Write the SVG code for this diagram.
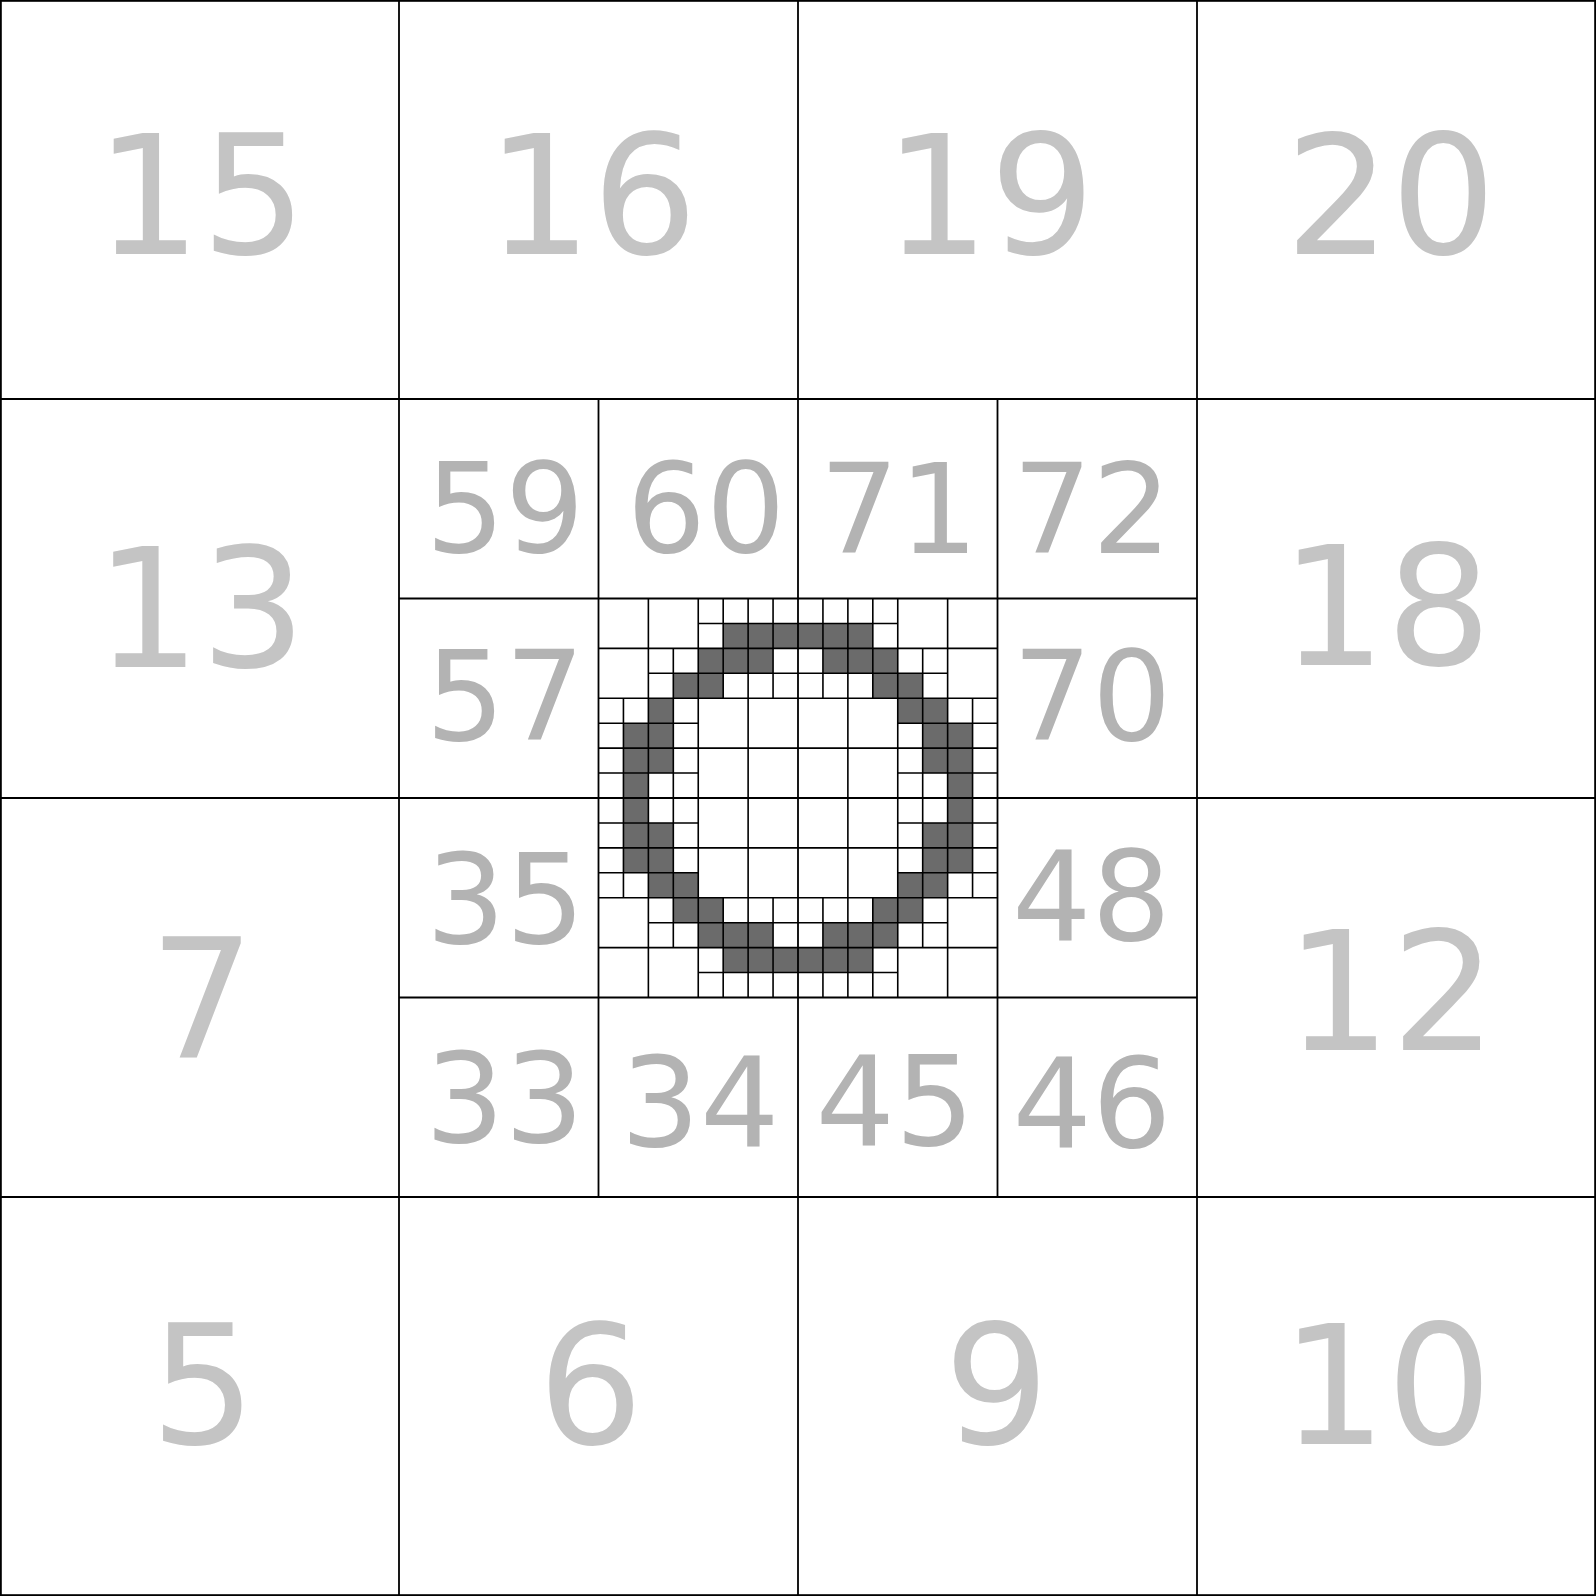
<svg xmlns="http://www.w3.org/2000/svg" xmlns:xlink="http://www.w3.org/1999/xlink" width="1596" height="1596" viewBox="0 0 1596 1596">
<style>
.ln{stroke:#000;stroke-width:1.8;fill:none}
.fn{stroke:#000;stroke-width:1.6;fill:none}
.on{fill:#6b6b6b}
.big{font-family:"DejaVu Sans",sans-serif;font-size:166px;fill:#c4c4c4;text-anchor:middle}
.mid{font-family:"DejaVu Sans",sans-serif;font-size:125px;fill:#b3b3b3;text-anchor:middle}
</style>
<defs>
<rect id="px" width="24.9375" height="24.9375"/>
<path id="cx" d="M24.9375 0V49.875M0 24.9375H49.875"/>
</defs>
<rect x="0" y="0" width="1596" height="1596" fill="#fff"/>
<g id="occupied">
<g class="on">
<use xlink:href="#px" x="723.1875" y="623.4375"/><use xlink:href="#px" x="748.125" y="623.4375"/><use xlink:href="#px" x="773.0625" y="623.4375"/><use xlink:href="#px" x="798" y="623.4375"/><use xlink:href="#px" x="822.9375" y="623.4375"/><use xlink:href="#px" x="847.875" y="623.4375"/>
<use xlink:href="#px" x="698.25" y="648.375"/><use xlink:href="#px" x="723.1875" y="648.375"/><use xlink:href="#px" x="748.125" y="648.375"/><use xlink:href="#px" x="822.9375" y="648.375"/><use xlink:href="#px" x="847.875" y="648.375"/><use xlink:href="#px" x="872.8125" y="648.375"/>
<use xlink:href="#px" x="673.3125" y="673.3125"/><use xlink:href="#px" x="698.25" y="673.3125"/><use xlink:href="#px" x="872.8125" y="673.3125"/><use xlink:href="#px" x="897.75" y="673.3125"/>
<use xlink:href="#px" x="648.375" y="698.25"/><use xlink:href="#px" x="897.75" y="698.25"/><use xlink:href="#px" x="922.6875" y="698.25"/>
<use xlink:href="#px" x="623.4375" y="723.1875"/><use xlink:href="#px" x="648.375" y="723.1875"/><use xlink:href="#px" x="922.6875" y="723.1875"/><use xlink:href="#px" x="947.625" y="723.1875"/>
<use xlink:href="#px" x="623.4375" y="748.125"/><use xlink:href="#px" x="648.375" y="748.125"/><use xlink:href="#px" x="922.6875" y="748.125"/><use xlink:href="#px" x="947.625" y="748.125"/>
<use xlink:href="#px" x="623.4375" y="773.0625"/><use xlink:href="#px" x="947.625" y="773.0625"/>
<use xlink:href="#px" x="623.4375" y="798"/><use xlink:href="#px" x="947.625" y="798"/>
<use xlink:href="#px" x="623.4375" y="822.9375"/><use xlink:href="#px" x="648.375" y="822.9375"/><use xlink:href="#px" x="922.6875" y="822.9375"/><use xlink:href="#px" x="947.625" y="822.9375"/>
<use xlink:href="#px" x="623.4375" y="847.875"/><use xlink:href="#px" x="648.375" y="847.875"/><use xlink:href="#px" x="922.6875" y="847.875"/><use xlink:href="#px" x="947.625" y="847.875"/>
<use xlink:href="#px" x="648.375" y="872.8125"/><use xlink:href="#px" x="673.3125" y="872.8125"/><use xlink:href="#px" x="897.75" y="872.8125"/><use xlink:href="#px" x="922.6875" y="872.8125"/>
<use xlink:href="#px" x="673.3125" y="897.75"/><use xlink:href="#px" x="698.25" y="897.75"/><use xlink:href="#px" x="872.8125" y="897.75"/><use xlink:href="#px" x="897.75" y="897.75"/>
<use xlink:href="#px" x="698.25" y="922.6875"/><use xlink:href="#px" x="723.1875" y="922.6875"/><use xlink:href="#px" x="748.125" y="922.6875"/><use xlink:href="#px" x="822.9375" y="922.6875"/><use xlink:href="#px" x="847.875" y="922.6875"/><use xlink:href="#px" x="872.8125" y="922.6875"/>
<use xlink:href="#px" x="723.1875" y="947.625"/><use xlink:href="#px" x="748.125" y="947.625"/><use xlink:href="#px" x="773.0625" y="947.625"/><use xlink:href="#px" x="798" y="947.625"/><use xlink:href="#px" x="822.9375" y="947.625"/><use xlink:href="#px" x="847.875" y="947.625"/>
</g>
</g>
<g id="grid">
<path class="ln" d="M399 0V1596M798 0V1596M1197 0V1596M0 399H1596M0 798H1596M0 1197H1596"/>
<path class="ln" d="M598.5 399V1197M997.5 399V1197M399 598.5H1197M399 997.5H1197"/>
<path class="fn" d="M648.375 598.5V997.5M698.25 598.5V997.5M748.125 598.5V997.5M847.875 598.5V997.5M897.75 598.5V997.5M947.625 598.5V997.5M598.5 648.375H997.5M598.5 698.25H997.5M598.5 748.125H997.5M598.5 847.875H997.5M598.5 897.75H997.5M598.5 947.625H997.5"/>
<g class="fn">
<use xlink:href="#cx" x="698.25" y="598.5"/><use xlink:href="#cx" x="748.125" y="598.5"/><use xlink:href="#cx" x="798" y="598.5"/><use xlink:href="#cx" x="847.875" y="598.5"/>
<use xlink:href="#cx" x="648.375" y="648.375"/><use xlink:href="#cx" x="698.25" y="648.375"/><use xlink:href="#cx" x="748.125" y="648.375"/><use xlink:href="#cx" x="798" y="648.375"/><use xlink:href="#cx" x="847.875" y="648.375"/><use xlink:href="#cx" x="897.75" y="648.375"/>
<use xlink:href="#cx" x="598.5" y="698.25"/><use xlink:href="#cx" x="648.375" y="698.25"/><use xlink:href="#cx" x="897.75" y="698.25"/><use xlink:href="#cx" x="947.625" y="698.25"/>
<use xlink:href="#cx" x="598.5" y="748.125"/><use xlink:href="#cx" x="648.375" y="748.125"/><use xlink:href="#cx" x="897.75" y="748.125"/><use xlink:href="#cx" x="947.625" y="748.125"/>
<use xlink:href="#cx" x="598.5" y="798"/><use xlink:href="#cx" x="648.375" y="798"/><use xlink:href="#cx" x="897.75" y="798"/><use xlink:href="#cx" x="947.625" y="798"/>
<use xlink:href="#cx" x="598.5" y="847.875"/><use xlink:href="#cx" x="648.375" y="847.875"/><use xlink:href="#cx" x="897.75" y="847.875"/><use xlink:href="#cx" x="947.625" y="847.875"/>
<use xlink:href="#cx" x="648.375" y="897.75"/><use xlink:href="#cx" x="698.25" y="897.75"/><use xlink:href="#cx" x="748.125" y="897.75"/><use xlink:href="#cx" x="798" y="897.75"/><use xlink:href="#cx" x="847.875" y="897.75"/><use xlink:href="#cx" x="897.75" y="897.75"/>
<use xlink:href="#cx" x="698.25" y="947.625"/><use xlink:href="#cx" x="748.125" y="947.625"/><use xlink:href="#cx" x="798" y="947.625"/><use xlink:href="#cx" x="847.875" y="947.625"/>
</g>
<rect class="ln" x="0.9" y="0.9" width="1594.2" height="1594.2"/>
</g>
<g id="labels">
<g id="n15"><text class="big" x="201" y="253.5">15</text></g>
<g id="n16"><text class="big" x="592" y="253.5">16</text></g>
<g id="n19"><text class="big" x="989.5" y="253.5">19</text></g>
<g id="n20"><text class="big" x="1390.5" y="253.5">20</text></g>
<g id="n13"><text class="big" x="200.5" y="667">13</text></g>
<g id="n18"><text class="big" x="1386" y="664.5">18</text></g>
<g id="n7"><text class="big" x="202" y="1056.5">7</text></g>
<g id="n12"><text class="big" x="1391" y="1050">12</text></g>
<g id="n5"><text class="big" x="203" y="1444">5</text></g>
<g id="n6"><text class="big" x="590.5" y="1444">6</text></g>
<g id="n9"><text class="big" x="996.5" y="1444">9</text></g>
<g id="n10"><text class="big" x="1386.5" y="1444">10</text></g>
<g id="n59"><text class="mid" x="505" y="551.7">59</text></g>
<g id="n60"><text class="mid" x="706" y="552">60</text></g>
<g id="n71"><text class="mid" x="899" y="552.7">71</text></g>
<g id="n72"><text class="mid" x="1092" y="552.7">72</text></g>
<g id="n57"><text class="mid" x="505" y="740">57</text></g>
<g id="n70"><text class="mid" x="1092" y="740">70</text></g>
<g id="n35"><text class="mid" x="505.5" y="943">35</text></g>
<g id="n48"><text class="mid" x="1091.5" y="939.5">48</text></g>
<g id="n33"><text class="mid" x="504.5" y="1142">33</text></g>
<g id="n34"><text class="mid" x="700" y="1146">34</text></g>
<g id="n45"><text class="mid" x="895" y="1145">45</text></g>
<g id="n46"><text class="mid" x="1092" y="1147">46</text></g>
</g>
</svg>
